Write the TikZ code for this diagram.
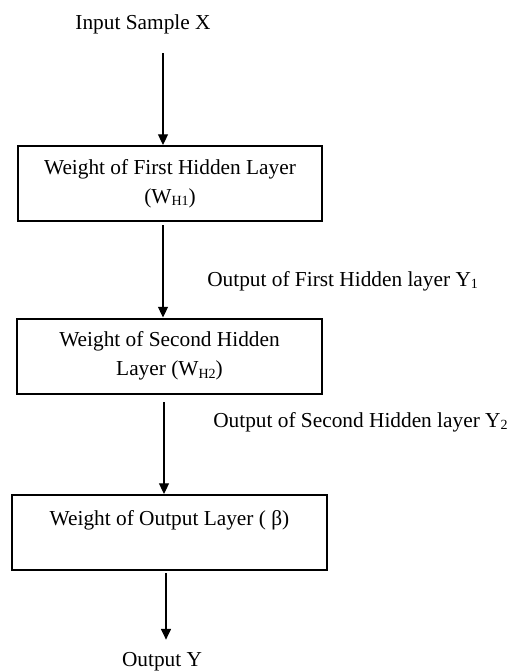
\documentclass[tikz,border=0pt]{standalone}
\usepackage{fontspec}
\setmainfont{Liberation Serif}
\usetikzlibrary{arrows.meta}
% small lowered index, as in W_H1 and Y_1
\newcommand\lowidx[1]{\raisebox{-0.12em}{\fontsize{10.5}{12}\selectfont #1}}
\begin{document}
\begin{tikzpicture}[x=0.75pt,y=-0.75pt,
  every node/.style={font=\fontsize{16}{21.75}\selectfont},
  layerbox/.style={draw, line width=1.5pt, inner sep=0pt, align=center,
    minimum height=56.25pt},
  plain/.style={inner sep=0pt},
  arr/.style={line width=0.8pt, -{Triangle[width=7.5pt,length=8pt]}}]
\useasboundingbox (0,0) rectangle (528,671);

% input and output texts
\node[plain, anchor=base] (in) at (143,29) {Input Sample X};
\node[plain, anchor=base] (out) at (162,666) {Output Y};

% the three weight layers
\node[layerbox, minimum width=228pt] (b1) at (170,183.5)
  {Weight of First Hidden Layer\\(W\lowidx{H1})};
\node[layerbox, minimum width=228.75pt] (b2) at (169.5,356)
  {Weight of Second Hidden\\Layer (W\lowidx{H2})};
\node[layerbox, minimum width=236.25pt] (b3) at (169.5,532.5)
  {Weight of Output Layer ( β)\\\mbox{}};

% intermediate outputs
\node[plain, anchor=base west] (y1) at (207,286)
  {Output of First Hidden layer Y\lowidx{1}};
\node[plain, anchor=base west] (y2) at (213,427)
  {Output of Second Hidden layer Y\lowidx{2}};

% connectors
\coordinate (s1) at (163,53);
\coordinate (s2) at (163,225);
\coordinate (s3) at (164,402);
\coordinate (s4) at (166,573);
\draw[arr] (s1) -- (s1 |- b1.north);
\draw[arr] (s2) -- (s2 |- b2.north);
\draw[arr] (s3) -- (s3 |- b3.north);
\draw[arr, shorten >=9pt] (s4) -- (s4 |- out.north);
\end{tikzpicture}
\end{document}
